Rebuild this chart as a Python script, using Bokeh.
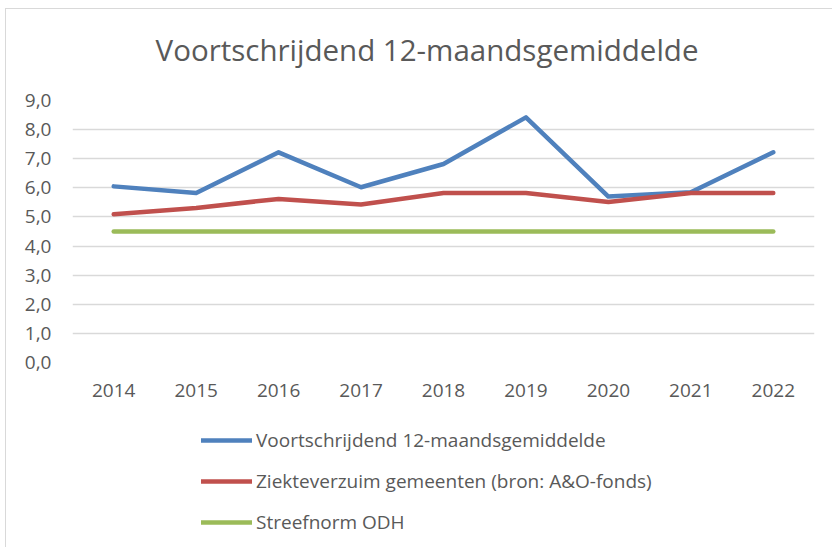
from bokeh.plotting import figure
from bokeh.layouts import column
from bokeh.models import (Range1d, FixedTicker, CustomJSTickFormatter, Legend,
                          LegendItem, Label)
from bokeh.embed import file_html
from bokeh.resources import INLINE

years = [2014, 2015, 2016, 2017, 2018, 2019, 2020, 2021, 2022]
voortschrijdend = [6.05, 5.82, 7.22, 6.02, 6.82, 8.42, 5.70, 5.85, 7.22]
ziekteverzuim = [5.09, 5.31, 5.62, 5.43, 5.82, 5.82, 5.51, 5.82, 5.82]
streefnorm = [4.5, 4.5, 4.5, 4.5, 4.5, 4.5, 4.5, 4.5, 4.5]
y_ticks = [0, 1, 2, 3, 4, 5, 6, 7, 8, 9]

title_text = "Voortschrijdend 12-maandsgemiddelde"
labels = ["Voortschrijdend 12-maandsgemiddelde",
          "Ziekteverzuim gemeenten (bron: A&O-fonds)",
          "Streefnorm ODH"]
colors = ["#4F81BD", "#C0504D", "#9BBB59"]
FONT = "Open Sans"
TXT = "#595959"
LW = 4.5
W = 826


def strip(h):
    f = figure(width=W, height=h, output_backend="svg", toolbar_location=None,
               x_range=Range1d(0, 1), y_range=Range1d(0, 1),
               min_border_left=0, min_border_right=0, min_border_top=0,
               min_border_bottom=0, title=None)
    f.axis.visible = False
    f.grid.visible = False
    f.outline_line_color = None
    return f


# title strip
t = strip(76)
t.add_layout(Label(x=354.5, y=36.5, x_units="screen", y_units="screen",
                   text=title_text, text_align="center",
                   text_baseline="alphabetic", text_font=FONT,
                   text_font_size="29.5px", text_color=TXT))

# main chart
p = figure(width=W, height=328, output_backend="svg", toolbar_location=None,
           x_range=Range1d(2013.5, 2022.5), y_range=Range1d(0, 9),
           min_border_left=66, min_border_right=18, min_border_top=15,
           min_border_bottom=51, title=None)
p.outline_line_color = None

for ys, c in zip([voortschrijdend, ziekteverzuim, streefnorm], colors):
    p.line(years, ys, line_color=c, line_width=LW, line_cap="round",
           line_join="round")

p.xaxis.ticker = FixedTicker(ticks=years)
p.yaxis.ticker = FixedTicker(ticks=y_ticks)
p.yaxis.formatter = CustomJSTickFormatter(code="return tick.toFixed(1).replace('.', ',');")
for ax in (p.xaxis, p.yaxis):
    ax.axis_line_color = None
    ax.major_tick_line_color = None
    ax.minor_tick_line_color = None
    ax.major_tick_out = 0
    ax.major_tick_in = 0
    ax.major_label_text_font = FONT
    ax.major_label_text_font_size = "19px"
    ax.major_label_text_color = TXT
p.xaxis.major_label_standoff = 21
p.yaxis.major_label_standoff = 21

p.xgrid.grid_line_color = None
p.ygrid.grid_line_color = "#d9d9d9"
p.ygrid.grid_line_width = 1.5

# legend strip (frames are aligned by the column)
q = strip(134)
items = []
for l, c in zip(labels, colors):
    # swatch renderers sit outside the visible range; only their legend glyph shows
    r = q.line(x=[-5, -4], y=[-5, -5], line_color=c, line_width=LW,
               line_cap="round")
    items.append(LegendItem(label=l, renderers=[r]))

legend = Legend(items=items, location=(129, 12.5), orientation="vertical",
                glyph_width=51, glyph_height=24, label_height=24, spacing=15,
                label_standoff=4, padding=0, margin=0,
                border_line_color=None, background_fill_alpha=0,
                label_text_font=FONT, label_text_font_size="19px",
                label_text_color=TXT)
q.add_layout(legend, "center")

layout = column(t, p, q, spacing=0)
layout.styles = {"margin-left": "5px", "margin-top": "8px",
                 "border-left": "1px solid #d9d9d9",
                 "border-top": "1px solid #d9d9d9"}

open("out.html", "w").write(file_html(layout, INLINE))
